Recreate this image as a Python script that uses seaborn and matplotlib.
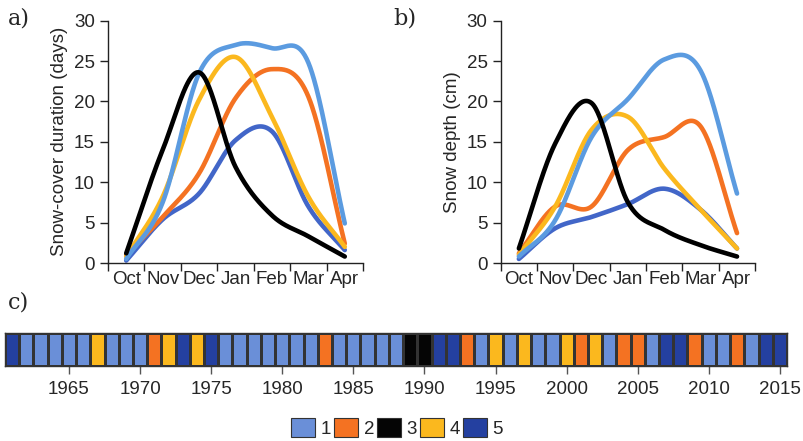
import numpy as np
import pandas as pd
import seaborn as sns
import matplotlib.pyplot as plt
from matplotlib.colors import ListedColormap
from matplotlib.patches import Patch

# --- data ---
months = ['Oct', 'Nov', 'Dec', 'Jan', 'Feb', 'Mar', 'Apr']
types = ['1', '2', '3', '4', '5']

# a) snow-cover duration (days), monthly values per snow type
dur_1 = [0.5, 7.5, 23.5, 27.0, 26.6, 24.8, 4.9]
dur_2 = [1.0, 5.7, 11.1, 20.4, 24.0, 20.6, 2.4]
dur_3 = [1.2, 14.0, 23.6, 11.9, 5.9, 3.3, 0.8]
dur_4 = [0.8, 8.2, 20.2, 25.5, 18.1, 8.2, 2.0]
dur_5 = [0.3, 5.4, 8.6, 15.2, 16.3, 7.0, 1.6]

# b) snow depth (cm)
dep_1 = [0.8, 5.3, 15.6, 20.3, 25.2, 23.8, 8.6]
dep_2 = [1.2, 7.0, 7.0, 14.0, 15.6, 16.9, 3.7]
dep_3 = [1.8, 14.8, 19.8, 7.5, 4.1, 2.2, 0.8]
dep_4 = [1.0, 7.0, 16.5, 18.1, 11.7, 6.6, 1.8]
dep_5 = [0.5, 4.3, 5.7, 7.3, 9.2, 6.6, 1.8]

# c) snow type per winter
years = list(range(1961, 2016))
year_type = [5, 1, 1, 1, 1, 1, 4, 1, 1, 1,
             2, 4, 5, 4, 5, 1, 1, 1, 1, 1,
             1, 1, 2, 1, 1, 1, 1, 1, 3, 3,
             5, 5, 2, 1, 4, 1, 4, 1, 1, 4,
             2, 4, 1, 2, 2, 1, 5, 5, 2, 1,
             1, 2, 1, 5, 5]

line_colors = ['#5b9be0', '#f47222', '#000000', '#fbb81e', '#4266c8']
cell_colors = ['#6a8fd8', '#f47222', '#050505', '#fbb81e', '#2440a0']


def smooth(x, y, n=60):
    # catmull-rom curve through the points (like a spreadsheet "smoothed line")
    x = np.asarray(x, float)
    y = np.asarray(y, float)
    m = np.zeros_like(y)
    m[1:-1] = (y[2:] - y[:-2]) / 2
    m[0] = y[1] - y[0]
    m[-1] = y[-1] - y[-2]
    xs, ys = [], []
    for i in range(len(x) - 1):
        t = np.linspace(0, 1, n, endpoint=(i == len(x) - 2))
        h00 = 2 * t ** 3 - 3 * t ** 2 + 1
        h10 = t ** 3 - 2 * t ** 2 + t
        h01 = -2 * t ** 3 + 3 * t ** 2
        h11 = t ** 3 - t ** 2
        xs.append(x[i] + t * (x[i + 1] - x[i]))
        ys.append(h00 * y[i] + h10 * m[i] + h01 * y[i + 1] + h11 * m[i + 1])
    return np.concatenate(xs), np.concatenate(ys)


def long_frame(series):
    xpos = np.arange(len(months)) + 0.5
    parts = []
    for t, vals in zip(types, series):
        xs, ys = smooth(xpos, vals)
        parts.append(pd.DataFrame({'x': xs, 'y': ys, 'type': t}))
    return pd.concat(parts, ignore_index=True)


sns.set_style('ticks')
plt.rcParams['font.family'] = ['Liberation Sans', 'DejaVu Sans']
plt.rcParams['font.size'] = 13.5

fig = plt.figure(figsize=(8.04, 4.41), dpi=100)
ax_a = fig.add_axes([108 / 804, 1 - 263 / 441, 255 / 804, 242.3 / 441])
ax_b = fig.add_axes([500.7 / 804, 1 - 263 / 441, 254.5 / 804, 242.3 / 441])
ax_c = fig.add_axes([5 / 804, 1 - 366 / 441, 782 / 804, 33 / 441])

panels = [(ax_a, [dur_1, dur_2, dur_3, dur_4, dur_5], 'Snow-cover duration (days)'),
          (ax_b, [dep_1, dep_2, dep_3, dep_4, dep_5], 'Snow depth (cm)')]

for ax, series, ylabel in panels:
    df = long_frame(series)
    # drawing order as in the original overlap
    for t in ['5', '2', '4', '1', '3']:
        sub = df[df['type'] == t]
        sns.lineplot(data=sub, x='x', y='y', color=line_colors[int(t) - 1],
                     lw=3.3, ax=ax, legend=False, clip_on=False, sort=False)
    ax.set_xlim(0, 7)
    ax.set_ylim(0, 30)
    ax.set_yticks(range(0, 31, 5))
    ax.set_xticks(range(0, 8))
    ax.set_xticklabels([])
    ax.set_xticks(np.arange(7) + 0.5, minor=True)
    ax.set_xticklabels(months, minor=True)
    ax.tick_params(axis='x', which='minor', length=0, pad=6)
    ax.tick_params(axis='both', which='major', length=6, width=1, color='#222222')
    ax.set_xlabel('')
    ax.set_ylabel(ylabel, labelpad=4)
    sns.despine(ax=ax)
    for s in ['left', 'bottom']:
        ax.spines[s].set_color('#222222')
        ax.spines[s].set_linewidth(1)

# c) strip of snow types
strip = np.array([year_type])
sns.heatmap(strip, ax=ax_c, cmap=ListedColormap(cell_colors), vmin=0.5, vmax=5.5,
            cbar=False, linewidths=0.8, linecolor='#333333')
tick_years = list(range(1965, 2016, 5))
ax_c.set_xticks([y - years[0] + 0.5 for y in tick_years])
ax_c.set_xticklabels([str(y) for y in tick_years], rotation=0)
ax_c.set_yticks([])
ax_c.tick_params(axis='x', length=6, width=1, color='#555555', pad=5)
for s in ax_c.spines.values():
    s.set_visible(True)
    s.set_color('#333333')
    s.set_linewidth(1)

handles = [Patch(facecolor=c, edgecolor='#333333', lw=0.8) for c in cell_colors]
fig.legend(handles, types, loc='center', bbox_to_anchor=(397 / 804, 1 - 428 / 441),
           ncol=5, frameon=False, handlelength=1.28, handleheight=1.17,
           handletextpad=0.3, columnspacing=0.15, borderpad=0, fontsize=13.5)

for lab, x, y in [('a)', 8, 18), ('b)', 393, 18), ('c)', 8, 303)]:
    fig.text(x / 804, 1 - y / 441, lab, family='DejaVu Serif', fontsize=16, va='center')

fig.savefig('out.png', dpi=100)
